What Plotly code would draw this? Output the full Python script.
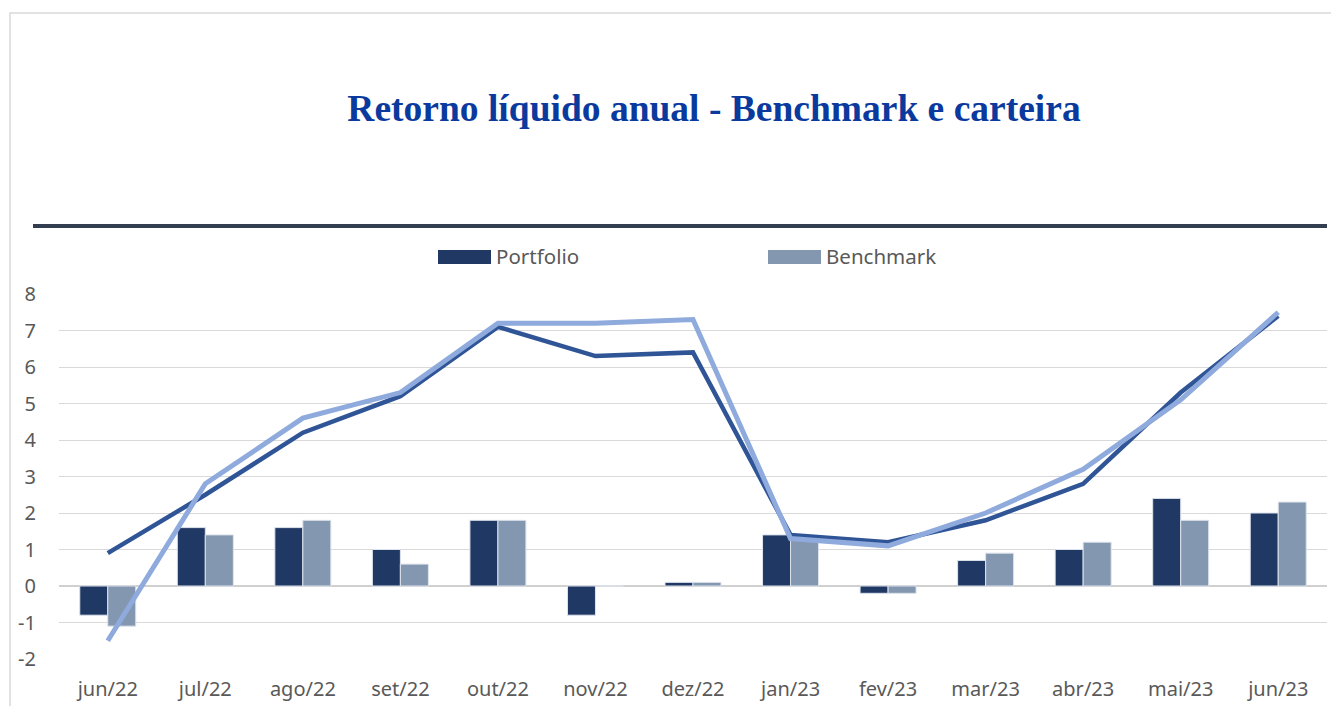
import plotly.graph_objects as go

categories = ["jun/22", "jul/22", "ago/22", "set/22", "out/22", "nov/22", "dez/22",
              "jan/23", "fev/23", "mar/23", "abr/23", "mai/23", "jun/23"]
portfolio_bar = [-0.8, 1.6, 1.6, 1.0, 1.8, -0.8, 0.1, 1.4, -0.2, 0.7, 1.0, 2.4, 2.0]
benchmark_bar = [-1.1, 1.4, 1.8, 0.6, 1.8, 0.0, 0.1, 1.3, -0.2, 0.9, 1.2, 1.8, 2.3]
portfolio_line = [0.9, 2.5, 4.2, 5.2, 7.1, 6.3, 6.4, 1.4, 1.2, 1.8, 2.8, 5.3, 7.4]
benchmark_line = [-1.5, 2.8, 4.6, 5.3, 7.2, 7.2, 7.3, 1.3, 1.1, 2.0, 3.2, 5.1, 7.5]
y_ticks = [-2, -1, 0, 1, 2, 3, 4, 5, 6, 7, 8]
y_tick_labels = ["-2", "-1", "0", "1", "2", "3", "4", "5", "6", "7", "8"]

OFF = 8  # default page body margin
W, H = 1339 - OFF, 706 - OFF
L, R, T, B = 59 - OFF, 12, 294 - OFF, 47
PW, PH = W - L - R, H - T - B


def px(x):
    # x given in page pixels
    return (x - OFF - L) / PW


def py(y):
    # y given in page pixels
    return (H - B - (y - OFF)) / PH


fig = go.Figure()
fig.add_trace(go.Bar(x=categories, y=portfolio_bar, name="Portfolio",
                     marker=dict(color="#203864", line=dict(color="#DDE3EC", width=1))))
fig.add_trace(go.Bar(x=categories, y=benchmark_bar, name="Benchmark",
                     marker=dict(color="#8497B0", line=dict(color="#DDE3EC", width=1))))
fig.add_trace(go.Scatter(x=categories, y=portfolio_line, mode="lines", name="Portfolio (linha)",
                         line=dict(color="#2F5597", width=4.5), showlegend=False))
fig.add_trace(go.Scatter(x=categories, y=benchmark_line, mode="lines", name="Benchmark (linha)",
                         line=dict(color="#8FAADC", width=5), showlegend=False))

shapes = [
    dict(type="rect", xref="paper", yref="paper", x0=px(10), y0=py(730), x1=px(1370), y1=py(13),
         line=dict(color="#D9D9D9", width=1.5), fillcolor="rgba(0,0,0,0)", layer="below"),
    dict(type="line", xref="paper", yref="paper", x0=px(33), x1=px(1327), y0=py(226), y1=py(226),
         line=dict(color="#333F50", width=4)),
    dict(type="rect", xref="paper", yref="paper", x0=px(438), x1=px(491), y0=py(264), y1=py(250),
         fillcolor="#203864", line=dict(width=0)),
    dict(type="rect", xref="paper", yref="paper", x0=px(768), x1=px(821), y0=py(264), y1=py(250),
         fillcolor="#8497B0", line=dict(width=0)),
]

annotations = [
    dict(text="Portfolio", xref="paper", yref="paper", x=px(494), y=py(256), xanchor="left",
         yanchor="middle", showarrow=False, font=dict(family="Noto Sans", size=20.5, color="#595959")),
    dict(text="Benchmark", xref="paper", yref="paper", x=px(824), y=py(256), xanchor="left",
         yanchor="middle", showarrow=False, font=dict(family="Noto Sans", size=20.5, color="#595959")),
]

fig.update_layout(
    width=W, height=H,
    margin=dict(l=L, r=R, t=T, b=B, autoexpand=False),
    paper_bgcolor="white", plot_bgcolor="white",
    title=dict(text="<b>Retorno líquido anual - Benchmark e carteira</b>",
               x=(714 - OFF) / W, xanchor="center", y=1 - (108 - OFF) / H, yanchor="middle",
               font=dict(family="Liberation Serif", size=37.5, color="#0B3A9E")),
    barmode="group", bargap=0.426, bargroupgap=0,
    showlegend=False,
    shapes=shapes, annotations=annotations,
    xaxis=dict(automargin=False, showgrid=False, showline=False, ticks="outside", ticklen=12,
               tickcolor="rgba(0,0,0,0)",
               tickfont=dict(family="Noto Sans", size=20, color="#595959")),
    yaxis=dict(automargin=False, range=[-2, 8], tickvals=y_ticks, ticktext=y_tick_labels,
               showgrid=True, gridcolor="#D9D9D9", gridwidth=1,
               zeroline=True, zerolinecolor="#D0D0D0", zerolinewidth=2,
               ticks="outside", ticklen=18, tickcolor="rgba(0,0,0,0)",
               tickfont=dict(family="Noto Sans", size=20, color="#595959")),
)

fig.write_html("out.html")
